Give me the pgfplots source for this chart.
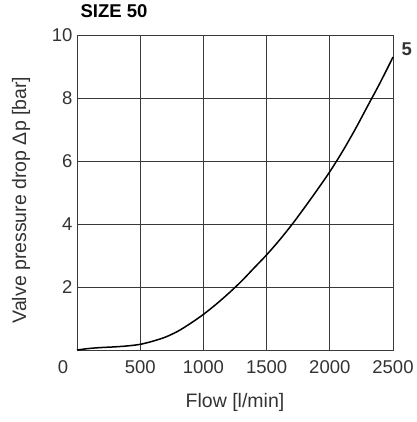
\documentclass[border=0pt]{standalone}
\usepackage{fontspec}
\setmainfont{Liberation Sans}
\usepackage{pgfplots}
\pgfplotsset{compat=1.18}
\definecolor{gridc}{HTML}{3A3A3A}
\definecolor{txt}{HTML}{333333}
\begin{document}
\begin{tikzpicture}[x=1pt,y=1pt]
\path[use as bounding box] (0,0) rectangle (416,422);
\begin{axis}[
  at={(77pt,72pt)}, anchor=south west,
  width=316pt, height=315pt, scale only axis,
  xmin=0, xmax=2500, ymin=0, ymax=10,
  xtick={500,1000,1500,2000,2500},
  ytick={2,4,6,8,10},
  extra x ticks={0},
  extra x tick style={grid=none, xticklabel style={xshift=-14pt}},
  major tick length=0pt,
  grid=major,
  grid style={gridc, line width=0.8pt},
  axis line style={gridc, line width=0.8pt},
  /pgf/number format/assume math mode=true,
  /pgf/number format/1000 sep={},
  tick label style={font=\fontsize{18.5}{21}\selectfont, text=txt},
  xticklabel style={yshift=-7pt},
  yticklabel style={xshift=-1pt},
  xlabel={Flow [l/min]},
  ylabel={Valve pressure drop Δp [bar]},
  label style={font=\fontsize{19.5}{23}\selectfont, text=txt},
  xlabel style={at={(axis description cs:0.5,-0.168)}, anchor=center},
  ylabel style={at={(axis description cs:-0.177,0.476)}, anchor=center},
  title={SIZE 50},
  title style={at={(rel axis cs:0,1)}, anchor=base west, yshift=11pt, xshift=0pt, font=\fontsize{18.5}{21}\selectfont\bfseries},
  clip=false,
]
\addplot[black, line width=1.5pt, smooth] coordinates {
(0,0) (100,0.05) (200,0.08) (300,0.1) (400,0.13) (500,0.18) (600,0.28)
(700,0.41) (800,0.6) (900,0.85) (1000,1.13) (1100,1.45) (1200,1.8)
(1300,2.18) (1400,2.6) (1500,3.02) (1600,3.48) (1700,3.98) (1800,4.52)
(1900,5.08) (2000,5.66) (2100,6.3) (2200,7.0) (2300,7.75) (2400,8.5) (2500,9.3)
};
\node[anchor=west, font=\fontsize{18.5}{21}\selectfont\bfseries, text=txt] at (rel axis cs:1,0.955) [xshift=5pt] {5};
\end{axis}
\end{tikzpicture}
\end{document}
